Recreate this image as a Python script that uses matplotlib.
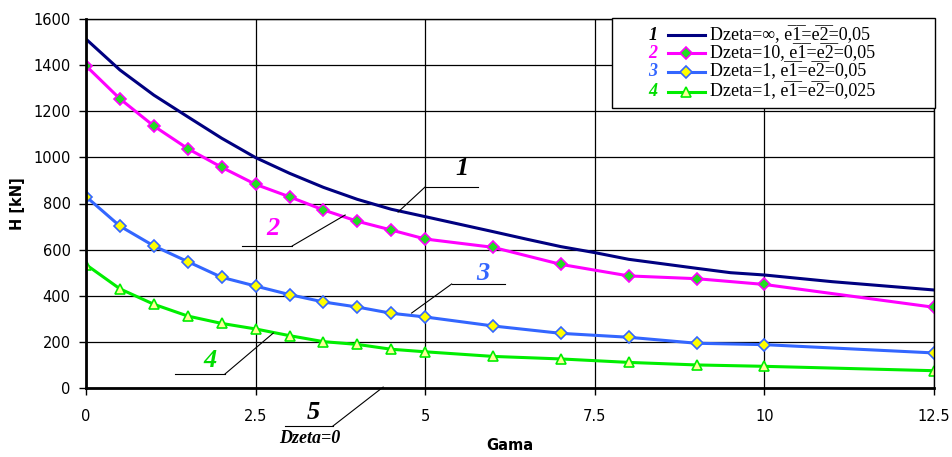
import matplotlib
matplotlib.use("Agg")
import matplotlib.pyplot as plt
from matplotlib.lines import Line2D
from matplotlib.patches import Rectangle

# dane
gama = [0, 0.5, 1, 1.5, 2, 2.5, 3, 3.5, 4, 4.5, 5, 6, 7, 8, 9, 10, 12.5]
gama_1 = [0, 0.5, 1, 1.5, 2, 2.5, 3, 3.5, 4, 4.5, 5, 6, 6.5, 7, 7.5, 8, 9, 9.5, 10, 11, 12, 12.5]
h_1 = [1513, 1379, 1270, 1176, 1083, 999, 931, 870, 818, 775, 743, 678, 645, 613, 587, 558, 519, 500, 490, 461, 437, 425]
h_2 = [1397, 1254, 1136, 1038, 957, 883, 829, 772, 723, 685, 646, 610, 536, 486, 474, 449, 350]
h_3 = [830, 702, 616, 548, 480, 442, 405, 373, 351, 324, 308, 269, 237, 220, 194, 188, 152]
h_4 = [535, 430, 363, 312, 280, 256, 227, 201, 189, 168, 157, 137, 126, 111, 100, 94, 75]

OV = "\u0305"
e1 = "e" + OV + "1" + OV
e2 = "e" + OV + "2" + OV
numery = ["1", "2", "3", "4"]
opisy = ["Dzeta=\u221e, " + e1 + "=" + e2 + "=0,05",
         "Dzeta=10, " + e1 + "=" + e2 + "=0,05",
         "Dzeta=1, " + e1 + "=" + e2 + "=0,05",
         "Dzeta=1, " + e1 + "=" + e2 + "=0,025"]

kol_1, kol_2, kol_3, kol_4 = "#000080", "#FF00FF", "#3366FF", "#00EE00"
kol_num = ["#000000", kol_2, kol_3, "#00DD00"]

fig = plt.figure(figsize=(9.52, 4.57), dpi=100)
ax = fig.add_axes([86 / 952, 1 - 388 / 457, (934 - 86) / 952, (388 - 19) / 457])

st = dict(lw=2.2, markersize=6.5)
l1, = ax.plot(gama_1, h_1, color=kol_1, lw=2.2)
l2, = ax.plot(gama, h_2, color=kol_2, marker="D", mfc="#22DD22", mec=kol_2, mew=1.2, **st)
l3, = ax.plot(gama, h_3, color=kol_3, marker="D", mfc="#FFFF00", mec=kol_3, mew=1.2, **st)
l4, = ax.plot(gama, h_4, color=kol_4, marker="^", mfc="#FFFF99", mec=kol_4, mew=1.2, lw=2.2, markersize=7.5)

ax.set_xlim(0, 12.5)
ax.set_ylim(0, 1600)
ax.set_xticks([0, 2.5, 5, 7.5, 10, 12.5])
ax.set_xticklabels(["0", "2.5", "5", "7.5", "10", "12.5"])
ax.set_yticks(range(0, 1601, 200))
ax.grid(True, color="black", lw=0.9)
ax.set_axisbelow(True)
ax.tick_params(labelsize=10.5, length=5, width=1, direction="out")
ax.tick_params(axis="x", pad=10)
ax.tick_params(axis="y", pad=6)
for s in ["left", "bottom"]:
    ax.spines[s].set_linewidth(2)
for s in ["top", "right"]:
    ax.spines[s].set_linewidth(1)
ax.set_xlabel("Gama", fontsize=10.5, fontweight="bold", labelpad=10)
ax.set_ylabel("H [kN]", fontsize=10.5, fontweight="bold", labelpad=6)

# opisy krzywych na wykresie
ann = dict(fontfamily="Liberation Serif", fontstyle="italic", fontweight="bold",
           fontsize=19, ha="center", va="center")
# nr, kolor, tekst, kreska pod numerem, koniec odnosnika, z ktorej strony kreski
opis_krzywych = [
    ("1", "#000000", (5.54, 950), (5.0, 5.78, 872), (4.6, 763), "L"),
    ("2", kol_2, (2.76, 690), (2.30, 3.04, 616), (3.82, 750), "P"),
    ("3", kol_3, (5.85, 495), (5.39, 6.18, 451), (4.80, 325), "L"),
    ("4", "#00DD00", (1.83, 118), (1.31, 2.05, 61), (2.76, 238), "P"),
    ("5", "#000000", (3.35, -105), (2.93, 3.64, -165), (4.38, 4), "P"),
]
for nr, kol, (tx, ty), (ux0, ux1, uy), (lx, ly), strona in opis_krzywych:
    ax.text(tx, ty, nr, color=kol, clip_on=False, **ann)
    ax.plot([ux0, ux1], [uy, uy], color="black", lw=0.8, clip_on=False)
    ax.plot([ux0 if strona == "L" else ux1, lx], [uy, ly], color="black", lw=0.8, clip_on=False)
ax.text(3.30, -220, "Dzeta=0", fontfamily="Liberation Serif", fontstyle="italic",
        fontweight="bold", fontsize=13, ha="center", va="center", clip_on=False)

# legenda
W, H = 952.0, 457.0
fig.add_artist(Rectangle((612 / W, 1 - 108 / H), (935 - 612) / W, 90 / H,
                         transform=fig.transFigure, facecolor="white", edgecolor="black", lw=1))
wiersze = [35, 53.3, 71.7, 91.7]
linie = [l1, l2, l3, l4]
for i, y in enumerate(wiersze):
    yf = 1 - y / H
    fig.text(653 / W, yf, numery[i], color=kol_num[i], fontfamily="Liberation Serif",
             fontstyle="italic", fontweight="bold", fontsize=13, ha="center", va="center")
    ln = linie[i]
    fig.add_artist(Line2D([668 / W, 705 / W], [yf, yf], transform=fig.transFigure,
                          color=ln.get_color(), lw=2.2))
    if ln.get_marker() not in (None, "None", ""):
        fig.add_artist(Line2D([686 / W], [yf], transform=fig.transFigure, marker=ln.get_marker(),
                              mfc=ln.get_mfc(), mec=ln.get_mec(), mew=1.2,
                              markersize=ln.get_markersize(), linestyle="none"))
    fig.text(710 / W, yf, opisy[i], fontfamily="Liberation Serif", fontsize=13,
             ha="left", va="center")

fig.savefig("out.png", dpi=100)
